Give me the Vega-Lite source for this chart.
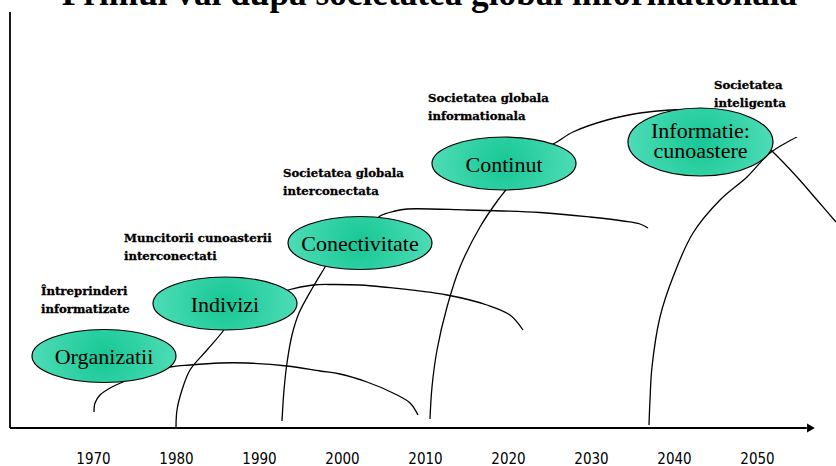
{
  "$schema": "https://vega.github.io/schema/vega-lite/v6.json",
  "width": 836,
  "height": 466,
  "autosize": {"type": "none"},
  "padding": 0,
  "background": "white",
  "config": {"view": {"stroke": null}},
  "title": {
    "text": "Primul val dupa societatea global informationala",
    "font": "Liberation Serif",
    "fontSize": 35.25,
    "fontWeight": "bold",
    "color": "black",
    "anchor": "middle",
    "baseline": "alphabetic",
    "offset": 0,
    "dy": 40,
    "dx": 11.5
  },
  "datasets": {
    "curves": [
      {"c": 1, "i": 1, "year": 1970.120, "level": 16},
      {"c": 1, "i": 2, "year": 1970.241, "level": 25},
      {"c": 1, "i": 3, "year": 1970.843, "level": 33},
      {"c": 1, "i": 4, "year": 1972.289, "level": 41},
      {"c": 1, "i": 5, "year": 1973.614, "level": 46},
      {"c": 1, "i": 6, "year": 1976.265, "level": 55},
      {"c": 1, "i": 7, "year": 1979.277, "level": 61},
      {"c": 1, "i": 8, "year": 1981.687, "level": 63},
      {"c": 1, "i": 9, "year": 1985.301, "level": 65},
      {"c": 1, "i": 10, "year": 1988.554, "level": 65},
      {"c": 1, "i": 11, "year": 1993.373, "level": 62},
      {"c": 1, "i": 12, "year": 1997.349, "level": 57},
      {"c": 1, "i": 13, "year": 1999.759, "level": 54},
      {"c": 1, "i": 14, "year": 2003.012, "level": 46},
      {"c": 1, "i": 15, "year": 2006.145, "level": 35},
      {"c": 1, "i": 16, "year": 2008.193, "level": 25},
      {"c": 1, "i": 17, "year": 2009.157, "level": 13},
      {"c": 2, "i": 1, "year": 1980.000, "level": 1},
      {"c": 2, "i": 2, "year": 1980.120, "level": 18},
      {"c": 2, "i": 3, "year": 1980.723, "level": 38},
      {"c": 2, "i": 4, "year": 1981.687, "level": 58},
      {"c": 2, "i": 5, "year": 1983.735, "level": 78},
      {"c": 2, "i": 6, "year": 1985.663, "level": 97},
      {"c": 2, "i": 7, "year": 1986.265, "level": 106},
      {"c": 3, "i": 1, "year": 1991.928, "level": 133},
      {"c": 3, "i": 2, "year": 1993.494, "level": 138},
      {"c": 3, "i": 3, "year": 1996.506, "level": 143},
      {"c": 3, "i": 4, "year": 1998.916, "level": 143.5},
      {"c": 3, "i": 5, "year": 2002.169, "level": 143},
      {"c": 3, "i": 6, "year": 2004.940, "level": 141},
      {"c": 3, "i": 7, "year": 2012.651, "level": 133},
      {"c": 3, "i": 8, "year": 2017.470, "level": 123},
      {"c": 3, "i": 9, "year": 2020.241, "level": 113},
      {"c": 3, "i": 10, "year": 2021.807, "level": 98},
      {"c": 4, "i": 1, "year": 1992.771, "level": 7},
      {"c": 4, "i": 2, "year": 1993.012, "level": 38},
      {"c": 4, "i": 3, "year": 1993.373, "level": 65},
      {"c": 4, "i": 4, "year": 1993.976, "level": 93},
      {"c": 4, "i": 5, "year": 1994.819, "level": 115},
      {"c": 4, "i": 6, "year": 1996.506, "level": 141},
      {"c": 4, "i": 7, "year": 1997.952, "level": 161},
      {"c": 4, "i": 8, "year": 1998.554, "level": 170},
      {"c": 5, "i": 1, "year": 2003.614, "level": 203},
      {"c": 5, "i": 2, "year": 2004.578, "level": 212},
      {"c": 5, "i": 3, "year": 2006.386, "level": 217},
      {"c": 5, "i": 4, "year": 2007.831, "level": 219},
      {"c": 5, "i": 5, "year": 2015.060, "level": 218},
      {"c": 5, "i": 6, "year": 2023.855, "level": 215.5},
      {"c": 5, "i": 7, "year": 2029.880, "level": 211},
      {"c": 5, "i": 8, "year": 2033.855, "level": 207},
      {"c": 5, "i": 9, "year": 2035.904, "level": 204},
      {"c": 5, "i": 10, "year": 2036.868, "level": 200},
      {"c": 6, "i": 1, "year": 2010.602, "level": 9},
      {"c": 6, "i": 2, "year": 2010.843, "level": 41},
      {"c": 6, "i": 3, "year": 2011.446, "level": 78},
      {"c": 6, "i": 4, "year": 2012.651, "level": 121},
      {"c": 6, "i": 5, "year": 2014.217, "level": 161},
      {"c": 6, "i": 6, "year": 2016.627, "level": 201},
      {"c": 6, "i": 7, "year": 2018.795, "level": 228},
      {"c": 6, "i": 8, "year": 2019.639, "level": 237},
      {"c": 6, "i": 9, "year": 2020.482, "level": 246},
      {"c": 7, "i": 1, "year": 2023.855, "level": 278},
      {"c": 7, "i": 2, "year": 2025.663, "level": 285},
      {"c": 7, "i": 3, "year": 2027.831, "level": 296},
      {"c": 7, "i": 4, "year": 2031.928, "level": 308},
      {"c": 7, "i": 5, "year": 2035.904, "level": 315},
      {"c": 7, "i": 6, "year": 2039.518, "level": 318},
      {"c": 7, "i": 7, "year": 2043.133, "level": 318},
      {"c": 7, "i": 8, "year": 2047.952, "level": 306},
      {"c": 7, "i": 9, "year": 2051.928, "level": 276},
      {"c": 7, "i": 10, "year": 2054.819, "level": 251},
      {"c": 7, "i": 11, "year": 2057.229, "level": 228},
      {"c": 7, "i": 12, "year": 2059.518, "level": 206},
      {"c": 8, "i": 1, "year": 2036.988, "level": 3},
      {"c": 8, "i": 2, "year": 2037.108, "level": 28},
      {"c": 8, "i": 3, "year": 2037.349, "level": 61},
      {"c": 8, "i": 4, "year": 2038.313, "level": 111},
      {"c": 8, "i": 5, "year": 2039.880, "level": 151},
      {"c": 8, "i": 6, "year": 2042.289, "level": 195},
      {"c": 8, "i": 7, "year": 2045.542, "level": 228},
      {"c": 8, "i": 8, "year": 2048.795, "level": 251},
      {"c": 8, "i": 9, "year": 2051.566, "level": 275},
      {"c": 8, "i": 10, "year": 2054.819, "level": 291}
    ],
    "ellipses": [
      {"name": "Organizatii", "year": 1971.325, "level": 72, "form": "flat"},
      {"name": "Indivizi", "year": 1985.904, "level": 124.5, "form": "flat"},
      {"name": "Conectivitate", "year": 2002.169, "level": 185, "form": "flat"},
      {"name": "Continut", "year": 2019.518, "level": 264.5, "form": "flat"},
      {"name": "Informatie:\ncunoastere", "year": 2043.193, "level": 286, "form": "tall"}
    ],
    "labels": [
      {"text": "Întreprinderi\ninformatizate", "year": 1963.735, "level": 133},
      {"text": "Muncitorii cunoasterii\ninterconectati", "year": 1973.735, "level": 186},
      {"text": "Societatea globala\ninterconectata", "year": 1992.892, "level": 251},
      {"text": "Societatea globala\ninformationala", "year": 2010.361, "level": 326},
      {"text": "Societatea\ninteligenta", "year": 2044.819, "level": 339}
    ],
    "ticks": [
      {"year": 1970}, {"year": 1980}, {"year": 1990}, {"year": 2000}, {"year": 2010},
      {"year": 2020}, {"year": 2030}, {"year": 2040}, {"year": 2050}
    ],
    "frame": [
      {"part": "time axis", "year": 1960, "year2": 2056, "level": 0, "level2": 0},
      {"part": "vertical axis", "year": 1960, "year2": 1960, "level": 0, "level2": 416}
    ],
    "arrow": [
      {"year": 2056.5, "level": 0}
    ]
  },
  "encoding": {
    "x": {
      "field": "year",
      "type": "quantitative",
      "scale": {"domain": [1958.795, 2059.518], "nice": false, "zero": false},
      "axis": {
        "title": null,
        "values": [1970, 1980, 1990, 2000, 2010, 2020, 2030, 2040, 2050],
        "format": "d",
        "offset": -38,
        "domain": false,
        "ticks": false,
        "grid": false,
        "labelPadding": 23,
        "labelFont": "Liberation Sans Narrow, DejaVu Sans Condensed, Liberation Sans",
        "labelFontSize": 15,
        "labelColor": "black",
        "labelFlush": false,
        "labelOverlap": false
      }
    },
    "y": {
      "field": "level",
      "type": "quantitative",
      "scale": {"domain": [-38, 428], "nice": false, "zero": false},
      "axis": null
    }
  },
  "layer": [
    {
      "data": {"name": "frame"},
      "mark": {"type": "rule", "color": "black", "strokeWidth": 1.8},
      "encoding": {
        "x2": {"field": "year2"},
        "y2": {"field": "level2"}
      }
    },
    {
      "data": {"name": "ticks"},
      "mark": {"type": "rule", "color": "black", "strokeWidth": 1.5},
      "encoding": {
        "y": {"datum": -8, "type": "quantitative"},
        "y2": {"datum": 8}
      }
    },
    {
      "data": {"name": "arrow"},
      "mark": {"type": "point", "shape": "triangle-right", "size": 80, "filled": true, "color": "black", "opacity": 1}
    },
    {
      "data": {"name": "curves"},
      "mark": {"type": "line", "color": "black", "strokeWidth": 1.3, "interpolate": "catmull-rom"},
      "encoding": {
        "detail": {"field": "c", "type": "nominal"},
        "order": {"field": "i", "type": "quantitative"}
      }
    },
    {
      "data": {"name": "ellipses"},
      "mark": {
        "type": "point",
        "filled": true,
        "size": 3600,
        "opacity": 1,
        "stroke": "black",
        "strokeWidth": 1.2,
        "fill": {
          "gradient": "radial",
          "x1": 0.5, "y1": 0.5, "r1": 0,
          "x2": 0.5, "y2": 0.5, "r2": 0.5,
          "stops": [
            {"offset": 0, "color": "#17c795"},
            {"offset": 1, "color": "#4ddcb7"}
          ]
        }
      },
      "encoding": {
        "shape": {
          "field": "form",
          "type": "nominal",
          "scale": {
            "domain": ["flat", "tall"],
            "range": [
              "M -2.4 0 A 2.4 0.883 0 1 1 2.4 0 A 2.4 0.883 0 1 1 -2.4 0 Z",
              "M -2.417 0 A 2.417 1.133 0 1 1 2.417 0 A 2.417 1.133 0 1 1 -2.417 0 Z"
            ]
          },
          "legend": null
        }
      }
    },
    {
      "data": {"name": "ellipses"},
      "transform": [{"filter": "datum.form === 'flat'"}],
      "mark": {
        "type": "text",
        "font": "Liberation Serif",
        "fontSize": 22,
        "color": "black",
        "align": "center",
        "baseline": "middle",
        "dy": 1
      },
      "encoding": {
        "text": {"field": "name", "type": "nominal"}
      }
    },
    {
      "data": {"name": "ellipses"},
      "transform": [{"filter": "datum.form === 'tall'"}],
      "mark": {
        "type": "text",
        "font": "Liberation Serif",
        "fontSize": 22,
        "color": "black",
        "align": "center",
        "baseline": "middle",
        "lineBreak": "\n",
        "lineHeight": 19.5,
        "dy": -11
      },
      "encoding": {
        "text": {"field": "name", "type": "nominal"}
      }
    },
    {
      "data": {"name": "labels"},
      "mark": {
        "type": "text",
        "font": "DejaVu Serif",
        "fontWeight": "bold",
        "fontSize": 11.7,
        "color": "black",
        "stroke": "black",
        "strokeWidth": 0.3,
        "align": "left",
        "baseline": "alphabetic",
        "lineBreak": "\n",
        "lineHeight": 17.5
      },
      "encoding": {
        "text": {"field": "text", "type": "nominal"}
      }
    }
  ]
}
